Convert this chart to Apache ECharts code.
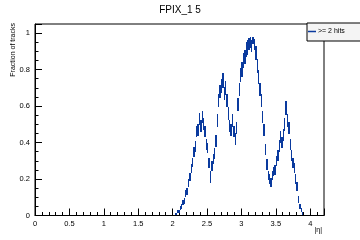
<!DOCTYPE html>
<html>
<head>
<meta charset="utf-8">
<script src="https://cdn.jsdelivr.net/npm/echarts@6/dist/echarts.min.js"></script>
<style>
  html, body { margin: 0; padding: 0; background: #fff; }
  #chart { width: 360px; height: 240px; }
</style>
</head>
<body>
<div id="chart"></div>
<script>
// histogram: first bin low edge and bin width in |eta|
const firstBin = 2.04;
const binWidth = 0.02;
const fraction = [
  0.01, 0.02, 0.02, 0.04, 0.05, 0.07, 0.08, 0.12, 0.13, 0.18,
  0.21, 0.26, 0.29, 0.35, 0.38, 0.46, 0.47, 0.53, 0.49, 0.54,
  0.50, 0.46, 0.39, 0.37, 0.29, 0.21, 0.27, 0.31, 0.34, 0.41,
  0.52, 0.63, 0.68, 0.71, 0.74, 0.67, 0.70, 0.63, 0.56, 0.49,
  0.47, 0.52, 0.46, 0.42, 0.48, 0.61, 0.69, 0.77, 0.80, 0.85,
  0.87, 0.91, 0.92, 0.94, 0.95, 0.93, 0.96, 0.94, 0.89, 0.82,
  0.76, 0.69, 0.63, 0.54, 0.47, 0.36, 0.28, 0.22, 0.20, 0.18,
  0.22, 0.24, 0.25, 0.30, 0.33, 0.38, 0.43, 0.40, 0.44, 0.50,
  0.59, 0.52, 0.48, 0.39, 0.33, 0.29, 0.26, 0.20, 0.16, 0.09,
  0.05, 0.03, 0.01
];
const errors = [
  0.006, 0.009, 0.009, 0.011, 0.013, 0.015, 0.016, 0.019, 0.02, 0.021,
  0.023, 0.025, 0.026, 0.028, 0.03, 0.032, 0.032, 0.034, 0.032, 0.034,
  0.032, 0.032, 0.03, 0.03, 0.027, 0.034, 0.027, 0.028, 0.03, 0.032,
  0.034, 0.036, 0.037, 0.037, 0.039, 0.036, 0.037, 0.036, 0.034, 0.032,
  0.032, 0.034, 0.032, 0.032, 0.032, 0.035, 0.037, 0.039, 0.039, 0.04,
  0.04, 0.04, 0.04, 0.035, 0.03, 0.035, 0.02, 0.03, 0.04, 0.039,
  0.037, 0.036, 0.035, 0.034, 0.032, 0.03, 0.028, 0.026, 0.025, 0.023,
  0.026, 0.026, 0.026, 0.028, 0.03, 0.032, 0.033, 0.032, 0.033, 0.035,
  0.037, 0.035, 0.034, 0.032, 0.03, 0.028, 0.028, 0.026, 0.023, 0.019,
  0.015, 0.011, 0.007
];
const xTicks = [0, 0.5, 1, 1.5, 2, 2.5, 3, 3.5, 4];
const yTicks = [0, 0.2, 0.4, 0.6, 0.8, 1];

const blue = "#0a3a9e";
const font = "Liberation Sans, Arial, Helvetica, sans-serif";

var data = fraction.map(function (v, i) {
  var lo = firstBin + i * binWidth;
  return [lo, lo + binWidth, v, errors[i]];
});

var chart = echarts.init(document.getElementById("chart"));
var option = {
  animation: false,
  title: {
    text: "FPIX_1 5",
    left: "center",
    top: 0,
    textStyle: { fontFamily: font, fontSize: 10, fontWeight: "normal", color: "#000" },
  },
  legend: {
    data: [{ name: ">= 2 hits", icon: "rect" }],
    left: 307,
    top: 23,
    itemWidth: 8,
    itemHeight: 1.5,
    itemGap: 2,
    padding: [5, 20, 6, 1],
    backgroundColor: "#f4f4f4",
    borderColor: "#000",
    borderWidth: 1,
    textStyle: { fontFamily: font, fontSize: 7, color: "#000", padding: [0, 0, 0, -3] },
  },
  grid: {
    left: 35,
    right: 36,
    top: 24,
    bottom: 24.5,
    show: true,
    borderColor: "#000",
    borderWidth: 1,
  },
  xAxis: {
    type: "value",
    min: 0,
    max: 4.2,
    interval: 0.5,
    axisLine: { show: true, onZero: false, lineStyle: { color: "#000" } },
    axisTick: { inside: true, length: 7, lineStyle: { color: "#000" } },
    minorTick: { show: true, splitNumber: 5, length: 3.5, lineStyle: { color: "#000" } },
    splitLine: { show: false },
    axisLabel: {
      showMaxLabel: false,
      fontFamily: font,
      fontSize: 7.5,
      color: "#000",
      margin: 4,
      formatter: function (v) { return xTicks.indexOf(v) >= 0 ? String(v) : ""; },
    },
  },
  yAxis: {
    type: "value",
    min: 0,
    max: 1.05,
    interval: 0.2,
    axisLine: { show: true, lineStyle: { color: "#000" } },
    axisTick: { inside: true, length: 7, lineStyle: { color: "#000" } },
    minorTick: { show: true, splitNumber: 4, length: 3.5, lineStyle: { color: "#000" } },
    splitLine: { show: false },
    axisLabel: {
      showMaxLabel: false,
      fontFamily: font,
      fontSize: 7.5,
      color: "#000",
      margin: 5,
      formatter: function (v) {
        var r = Math.round(v * 100) / 100;
        return yTicks.indexOf(r) >= 0 ? String(r) : "";
      },
    },
  },
  graphic: [
    {
      type: "text",
      x: 13,
      y: 23,
      rotation: Math.PI / 2,
      style: { text: "Fraction of tracks", fontFamily: font, fontSize: 7, fill: "#000", align: "right", verticalAlign: "middle" },
    },
    {
      type: "text",
      x: 322,
      y: 230,
      style: { text: "|η|", fontFamily: font, fontSize: 7, fill: "#000", align: "right", verticalAlign: "middle" },
    },
  ],
  series: [
    {
      name: ">= 2 hits",
      type: "custom",
      clip: true,
      itemStyle: { color: blue },
      data: data,
      renderItem: function (params, api) {
        var lo = api.value(0), hi = api.value(1), y = api.value(2), e = api.value(3);
        var pBot = api.coord([lo, Math.max(0, y - e)]);
        var pTop = api.coord([hi, y + e]);
        // dense error bars: one filled column per bin, snapped to whole pixels
        var x1 = Math.round(pBot[0]), x2 = Math.round(pTop[0]);
        var y1 = Math.round(pTop[1]), y2 = Math.round(pBot[1]);
        return {
          type: "rect",
          shape: { x: x1, y: y1, width: Math.max(1, x2 - x1), height: Math.max(1, y2 - y1) },
          style: { fill: blue },
        };
      },
    },
  ],
};
chart.setOption(option);
</script>
</body>
</html>
